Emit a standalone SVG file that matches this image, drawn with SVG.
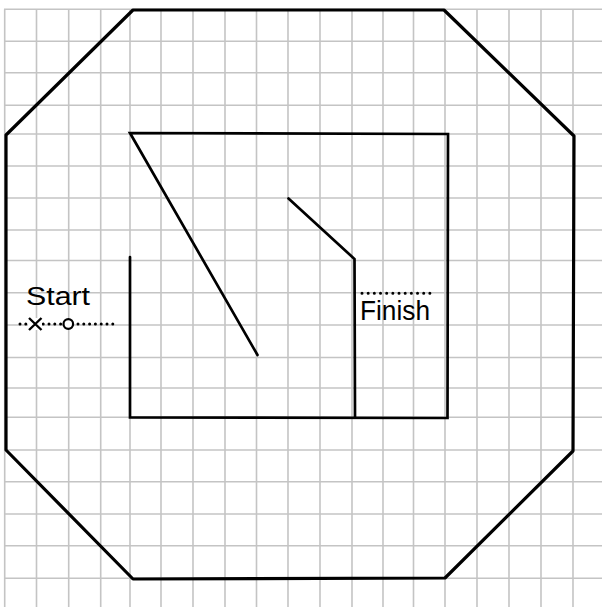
<svg xmlns="http://www.w3.org/2000/svg" width="602" height="607" viewBox="0 0 602 607">
<style>
.grid line{stroke:#c4c4c4;stroke-width:1.6}
.outer{fill:none;stroke:#000;stroke-width:3.2;stroke-linejoin:round;stroke-linecap:round}
.wall{fill:none;stroke:#000;stroke-width:2.7;stroke-linecap:round;stroke-linejoin:miter}
.dots{stroke:#000;stroke-width:3;stroke-linecap:round;fill:none}
.lbl{font-family:"Liberation Sans",Arial,sans-serif;fill:#000}
</style>
<rect width="602" height="607" fill="#fff"/>
<g class="grid" id="grid">
<line x1="4.7" y1="9.3" x2="4.7" y2="607"/>
<line x1="36.5" y1="9.3" x2="36.5" y2="607"/>
<line x1="68.7" y1="9.3" x2="68.7" y2="607"/>
<line x1="100.7" y1="9.3" x2="100.7" y2="607"/>
<line x1="130" y1="9.3" x2="130" y2="607"/>
<line x1="161" y1="9.3" x2="161" y2="607"/>
<line x1="193" y1="9.3" x2="193" y2="607"/>
<line x1="225" y1="9.3" x2="225" y2="607"/>
<line x1="256.5" y1="9.3" x2="256.5" y2="607"/>
<line x1="288" y1="9.3" x2="288" y2="607"/>
<line x1="320" y1="9.3" x2="320" y2="607"/>
<line x1="352" y1="9.3" x2="352" y2="607"/>
<line x1="383" y1="9.3" x2="383" y2="607"/>
<line x1="413.5" y1="9.3" x2="413.5" y2="607"/>
<line x1="445" y1="9.3" x2="445" y2="607"/>
<line x1="477" y1="9.3" x2="477" y2="607"/>
<line x1="509" y1="9.3" x2="509" y2="607"/>
<line x1="541" y1="9.3" x2="541" y2="607"/>
<line x1="573" y1="9.3" x2="573" y2="607"/>
<line x1="4" y1="9.3" x2="602" y2="9.3"/>
<line x1="4" y1="41.3" x2="602" y2="41.3"/>
<line x1="4" y1="72.7" x2="602" y2="72.7"/>
<line x1="4" y1="105.3" x2="602" y2="105.3"/>
<line x1="4" y1="134" x2="602" y2="134"/>
<line x1="4" y1="166" x2="602" y2="166"/>
<line x1="4" y1="198" x2="602" y2="198"/>
<line x1="4" y1="230" x2="602" y2="230"/>
<line x1="4" y1="260.5" x2="602" y2="260.5"/>
<line x1="4" y1="292.7" x2="602" y2="292.7"/>
<line x1="4" y1="325" x2="602" y2="325"/>
<line x1="4" y1="357.5" x2="602" y2="357.5"/>
<line x1="4" y1="388" x2="602" y2="388"/>
<line x1="4" y1="417.3" x2="602" y2="417.3"/>
<line x1="4" y1="450" x2="602" y2="450"/>
<line x1="4" y1="481.7" x2="602" y2="481.7"/>
<line x1="4" y1="514" x2="602" y2="514"/>
<line x1="4" y1="545.7" x2="602" y2="545.7"/>
<line x1="4" y1="578.3" x2="602" y2="578.3"/>
</g>
<g id="outer-wall">
<polygon class="outer" points="133,10 444,10 574,136 573,451 445,578 133,579 6,450 6,135"/>
</g>
<g id="inner-walls">
<polyline class="wall" points="130,257 130,417.5 447.5,418 448,134 130,133 257.5,355"/>
<polyline class="wall" points="288.5,198.5 354.5,259 355,417"/>
</g>
<g id="start">
<text class="lbl" x="26" y="305" font-size="25" textLength="64" lengthAdjust="spacingAndGlyphs">Start</text>
<line class="dots" x1="20" y1="324" x2="117" y2="324" stroke-dasharray="0 5.8"/>
<rect x="28" y="318" width="14" height="12" fill="#fff"/>
<path d="M29,318 L41.5,330 M41.5,318 L29,330" stroke="#000" stroke-width="2.4" fill="none"/>
<circle cx="68.3" cy="324" r="4.8" fill="#fff" stroke="#000" stroke-width="2.2"/>
</g>
<g id="finish">
<line class="dots" x1="362" y1="293.3" x2="436" y2="293.3" stroke-dasharray="0 6.17"/>
<text class="lbl" x="360" y="320" font-size="27" textLength="70" lengthAdjust="spacingAndGlyphs">Finish</text>
</g>
</svg>
